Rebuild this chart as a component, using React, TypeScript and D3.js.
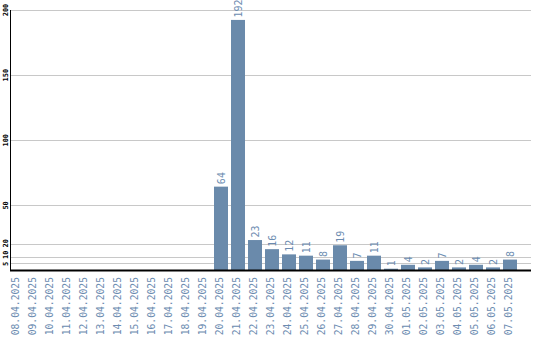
import React from "react";
import * as d3 from "d3";

const dates = [
  "08.04.2025","09.04.2025","10.04.2025","11.04.2025","12.04.2025","13.04.2025",
  "14.04.2025","15.04.2025","16.04.2025","17.04.2025","18.04.2025","19.04.2025",
  "20.04.2025","21.04.2025","22.04.2025","23.04.2025","24.04.2025","25.04.2025",
  "26.04.2025","27.04.2025","28.04.2025","29.04.2025","30.04.2025","01.05.2025",
  "02.05.2025","03.05.2025","04.05.2025","05.05.2025","06.05.2025","07.05.2025",
];
const values = [
  0,0,0,0,0,0,0,0,0,0,0,0,
  64,192,23,16,12,11,8,19,7,11,1,4,2,7,2,4,2,8,
];
const yTicks = [5, 10, 20, 50, 100, 150, 200];

const W = 540, H = 340;
const AXIS_X = 10.5, BASE_Y = 270, TOP_Y = 9.5, RIGHT_X = 531;
const BAR = "#6a8aab";
const TXT = "#6b8bb0";
const MONO = "'DejaVu Sans Mono', 'Liberation Mono', monospace";
const YFS = 7;

export default function App() {
  const x = d3.scaleBand<string>()
    .domain(dates)
    .range([8.5, 8.5 + 17 * dates.length])
    .paddingInner(3 / 17)
    .paddingOuter(1.5 / 17);
  const y = d3.scaleLinear().domain([0, 200]).range([BASE_Y, TOP_Y]);

  // simple overlap avoidance for y labels (bottom to top)
  const charW = YFS * 0.602;
  const centers: number[] = [];
  let lastTop = Infinity;
  yTicks.forEach((t) => {
    const half = (String(t).length * charW) / 2;
    let c = y(t) + 0.5;
    if (c + half > lastTop - 3) c = lastTop - 3 - half;
    c = Math.max(c, half + 0.5);
    centers.push(c);
    lastTop = c - half;
  });

  return (
    <svg width={W} height={H} style={{ position: "absolute", left: 0, top: 0, background: "#fff" }}>
      {yTicks.map((t) => (
        <line key={"g" + t} x1={AXIS_X} x2={RIGHT_X} y1={Math.round(y(t)) + 0.5} y2={Math.round(y(t)) + 0.5}
          stroke="#c8c8c8" strokeWidth={1} />
      ))}
      {yTicks.map((t, i) => (
        <text key={"t" + t} transform={`translate(8,${centers[i]}) rotate(-90)`} textAnchor="middle"
          fontFamily={MONO} fontSize={YFS} fontWeight="bold" fill="#000">{t}</text>
      ))}
      {values.map((v, i) => {
        if (v <= 0) return null;
        const bx = x(dates[i])!;
        return (
          <rect key={"b" + i} x={bx} width={x.bandwidth()} y={y(v)} height={BASE_Y - y(v)} fill={BAR} />
        );
      })}
      {values.map((v, i) => {
        if (v <= 0) return null;
        const cx = x(dates[i])! + x.bandwidth() / 2;
        return (
          <text key={"v" + i} transform={`translate(${cx},${y(v) - 2.5}) rotate(-90)`} textAnchor="start"
            dy="0.35em" fontFamily={MONO} fontSize={10} fill={TXT}>{v}</text>
        );
      })}
      <line x1={AXIS_X} x2={AXIS_X} y1={10} y2={BASE_Y} stroke="#000" strokeWidth={1} />
      <line x1={AXIS_X - 0.5} x2={RIGHT_X} y1={BASE_Y + 0.5} y2={BASE_Y + 0.5} stroke="#000" strokeWidth={2} />
      {dates.map((d) => {
        const cx = x(d)! + x.bandwidth() / 2;
        return (
          <text key={"x" + d} transform={`translate(${cx - 1},${BASE_Y + 7}) rotate(-90)`} textAnchor="end"
            dy="0.35em" fontFamily={MONO} fontSize={9.7} fill={TXT}>{d}</text>
        );
      })}
    </svg>
  );
}
